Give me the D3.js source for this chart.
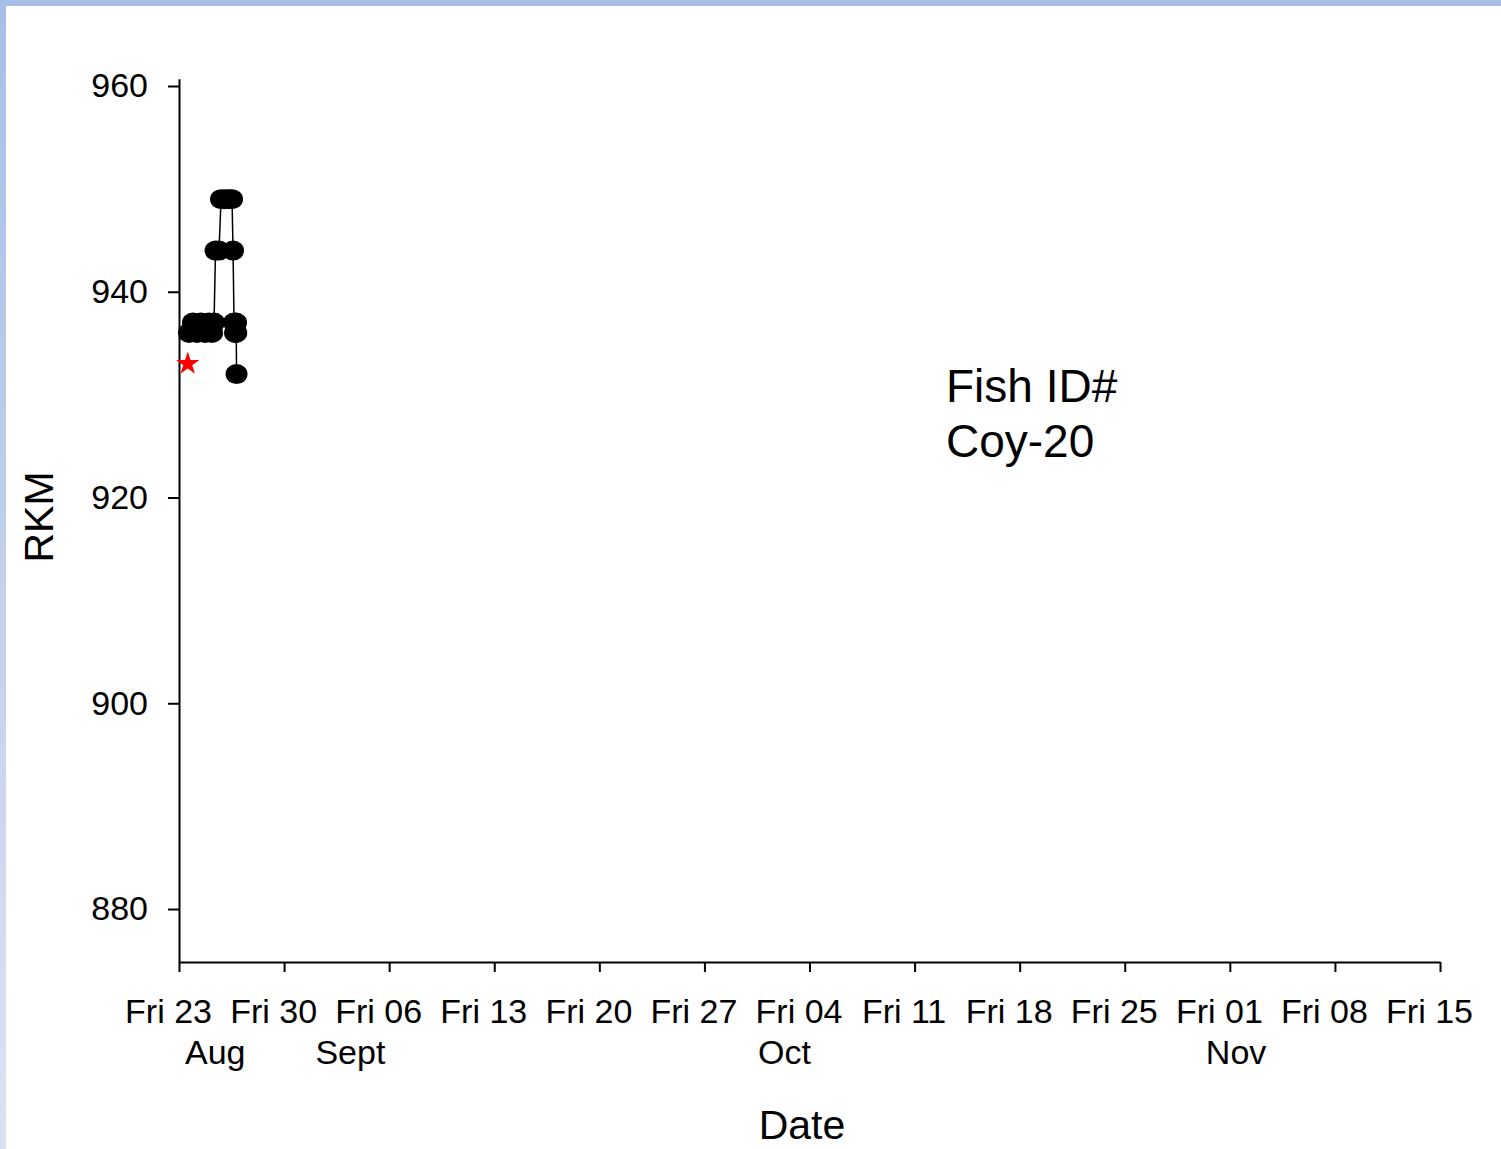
<!DOCTYPE html>
<html>
<head>
<meta charset="utf-8">
<script src="https://cdn.jsdelivr.net/npm/d3@7"></script>
<style>
  body { margin: 0; background: #fff; }
  text { font-family: "Liberation Sans", Arial, sans-serif; fill: #000; }
</style>
</head>
<body>
<div id="chart"></div>
<script>
var svgWidth = 1501;
var svgHeight = 1149;

// detections of fish Coy-20 (UTC)
var detectTimes = [
  "2019-08-23T16:00", "2019-08-23T22:20", "2019-08-24T04:48", "2019-08-24T11:12",
  "2019-08-24T17:36", "2019-08-25T00:00", "2019-08-25T04:48", "2019-08-25T08:00",
  "2019-08-25T10:24", "2019-08-25T16:00", "2019-08-25T19:12", "2019-08-26T01:36",
  "2019-08-26T08:00", "2019-08-26T12:48", "2019-08-26T14:24", "2019-08-26T16:00",
  "2019-08-26T17:36", "2019-08-26T19:12", "2019-08-26T19:30", "2019-08-26T20:00"
];
var detectRkm = [936, 937, 936, 937, 936, 937, 936, 937, 944, 944,
                 949, 949, 949, 949, 944, 937, 936, 937, 936, 932];

// release point (red star)
var releaseTime = ["2019-08-23T14:00"];
var releaseRkm = [933];

var weekTicks = ["2019-08-23", "2019-08-30", "2019-09-06", "2019-09-13", "2019-09-20",
  "2019-09-27", "2019-10-04", "2019-10-11", "2019-10-18", "2019-10-25",
  "2019-11-01", "2019-11-08", "2019-11-15"];
var monthNames = ["Aug", "Sept", "Oct", "Nov"];
var monthDates = ["2019-08-25T10:00", "2019-09-03T10:00", "2019-10-02T08:00", "2019-11-01T10:00"];
var yTicks = [880, 900, 920, 940, 960];

var parse = d3.utcParse("%Y-%m-%dT%H:%M");
var parseDay = d3.utcParse("%Y-%m-%d");

var data = detectTimes.map(function(t, i) { return { date: parse(t), rkm: detectRkm[i] }; });
var release = releaseTime.map(function(t, i) { return { date: parse(t), rkm: releaseRkm[i] }; });

var svg = d3.select("#chart").append("svg")
  .attr("width", svgWidth)
  .attr("height", svgHeight);

// slide frame
var defs = svg.append("defs");
var grad = defs.append("linearGradient").attr("id", "leftEdge")
  .attr("x1", 0).attr("y1", 0).attr("x2", 0).attr("y2", 1);
grad.append("stop").attr("offset", "0%").attr("stop-color", "#a7bfe8");
grad.append("stop").attr("offset", "100%").attr("stop-color", "#dbe3f3");
svg.append("rect").attr("x", 0).attr("y", 0).attr("width", 6).attr("height", svgHeight).attr("fill", "url(#leftEdge)");
svg.append("rect").attr("x", 0).attr("y", 0).attr("width", svgWidth).attr("height", 6).attr("fill", "#a7bfe8");

var x = d3.scaleUtc()
  .domain([parseDay(weekTicks[0]), parseDay(weekTicks[weekTicks.length - 1])])
  .range([179, 1440]);

var y = d3.scaleLinear()
  .domain([874.85, 960.7])
  .range([962, 78.8]);

// x axis
var xAxis = svg.append("g")
  .attr("transform", "translate(0, 962)")
  .call(d3.axisBottom(x)
    .tickValues(weekTicks.map(parseDay))
    .tickFormat(d3.utcFormat("%a %d"))
    .tickSize(10)
    .tickSizeOuter(0));
xAxis.select(".domain").attr("stroke", "#000").attr("stroke-width", 2);
xAxis.selectAll(".tick line").attr("stroke", "#000").attr("stroke-width", 2);
xAxis.selectAll(".tick text")
  .attr("y", 61)
  .attr("dy", 0)
  .attr("dx", -11)
  .style("font-size", "34px")
  .style("font-family", "Liberation Sans, Arial, sans-serif")
  .attr("fill", "#000");

svg.append("g").selectAll("text")
  .data(monthNames)
  .enter()
  .append("text")
  .attr("x", (d, i) => x(parse(monthDates[i])))
  .attr("y", 1064)
  .attr("text-anchor", "middle")
  .style("font-size", "34px")
  .text(d => d);

// y axis
var yAxis = svg.append("g")
  .attr("transform", "translate(179, 0)")
  .call(d3.axisLeft(y)
    .tickValues(yTicks)
    .tickSize(11)
    .tickSizeOuter(0));
yAxis.select(".domain").attr("stroke", "#000").attr("stroke-width", 2);
yAxis.selectAll(".tick line").attr("stroke", "#000").attr("stroke-width", 2);
yAxis.selectAll(".tick text")
  .attr("x", -31)
  .style("font-size", "34px")
  .style("font-family", "Liberation Sans, Arial, sans-serif")
  .attr("fill", "#000");

// axis titles
svg.append("text")
  .attr("x", 802)
  .attr("y", 1139)
  .attr("text-anchor", "middle")
  .style("font-size", "41px")
  .text("Date");

svg.append("text")
  .attr("transform", "translate(53, 517) rotate(-90)")
  .attr("text-anchor", "middle")
  .style("font-size", "41px")
  .text("RKM");

// track line + detections
var line = d3.line()
  .x(d => x(d.date))
  .y(d => y(d.rkm));

svg.append("path")
  .datum(data)
  .attr("d", line)
  .attr("fill", "none")
  .attr("stroke", "#000")
  .attr("stroke-width", 1.5);

svg.append("g").selectAll("ellipse")
  .data(data)
  .enter()
  .append("ellipse")
  .attr("cx", d => x(d.date))
  .attr("cy", d => y(d.rkm))
  .attr("rx", 11)
  .attr("ry", 10)
  .attr("fill", "#000");

svg.append("g").selectAll("path")
  .data(release)
  .enter()
  .append("path")
  .attr("transform", d => `translate(${x(d.date)}, ${y(d.rkm)})`)
  .attr("d", d3.symbol().type(d3.symbolStar).size(170))
  .attr("fill", "#ff0000");

// fish label
var label = svg.append("text")
  .attr("x", 946)
  .style("font-size", "46px");
label.append("tspan").attr("x", 946).attr("y", 402).text("Fish ID#");
label.append("tspan").attr("x", 946).attr("y", 457).text("Coy-20");
</script>
</body>
</html>
